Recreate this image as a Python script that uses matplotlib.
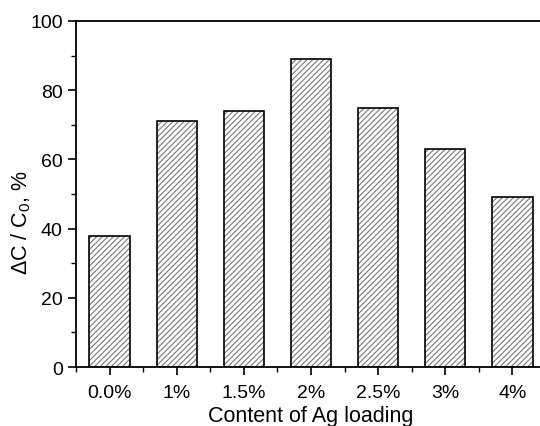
import matplotlib
matplotlib.use("Agg")
import matplotlib.pyplot as plt
from matplotlib.ticker import MultipleLocator, FixedLocator

plt.rcParams['font.family'] = ['Liberation Sans', 'DejaVu Sans']
plt.rcParams['mathtext.fontset'] = 'custom'
plt.rcParams['mathtext.rm'] = 'Liberation Sans'
plt.rcParams['hatch.linewidth'] = 0.8

categories = ['0.0%', '1%', '1.5%', '2%', '2.5%', '3%', '4%']
values = [38, 71, 74, 89, 75, 63, 49]

fig = plt.figure(figsize=(5.4, 4.27), dpi=100)
ax = fig.add_axes([0.1407, 0.138, 0.8703, 0.8105])

x = list(range(len(categories)))
# hatched fill in gray, outline in black on top
ax.bar(x, values, width=0.6, color='white', edgecolor='#777777', hatch='//////', linewidth=0, zorder=2)
ax.bar(x, values, width=0.6, fill=False, edgecolor='black', linewidth=1.2, zorder=3)

ax.set_xlim(-0.5, 6.5)
ax.set_ylim(0, 100)
ax.set_xticks(x)
ax.set_xticklabels(categories)
ax.xaxis.set_minor_locator(FixedLocator([i + 0.5 for i in range(-1, 7)]))
ax.yaxis.set_major_locator(MultipleLocator(20))
ax.yaxis.set_minor_locator(MultipleLocator(10))

ax.tick_params(axis='both', which='major', direction='out', length=6, width=1.2, labelsize=14)
ax.tick_params(axis='x', which='major', pad=6)
ax.tick_params(axis='both', which='minor', direction='out', length=3.5, width=1.0)
for s in ax.spines.values():
    s.set_linewidth(1.3)

ax.set_xlabel('Content of Ag loading', fontsize=15.5, labelpad=3)
ax.set_ylabel('\u0394C / C$_\\mathrm{0}$, %', fontsize=15.5, va='center')
ax.yaxis.set_label_coords(-0.117, 0.42)

fig.savefig('out.png', dpi=100)
